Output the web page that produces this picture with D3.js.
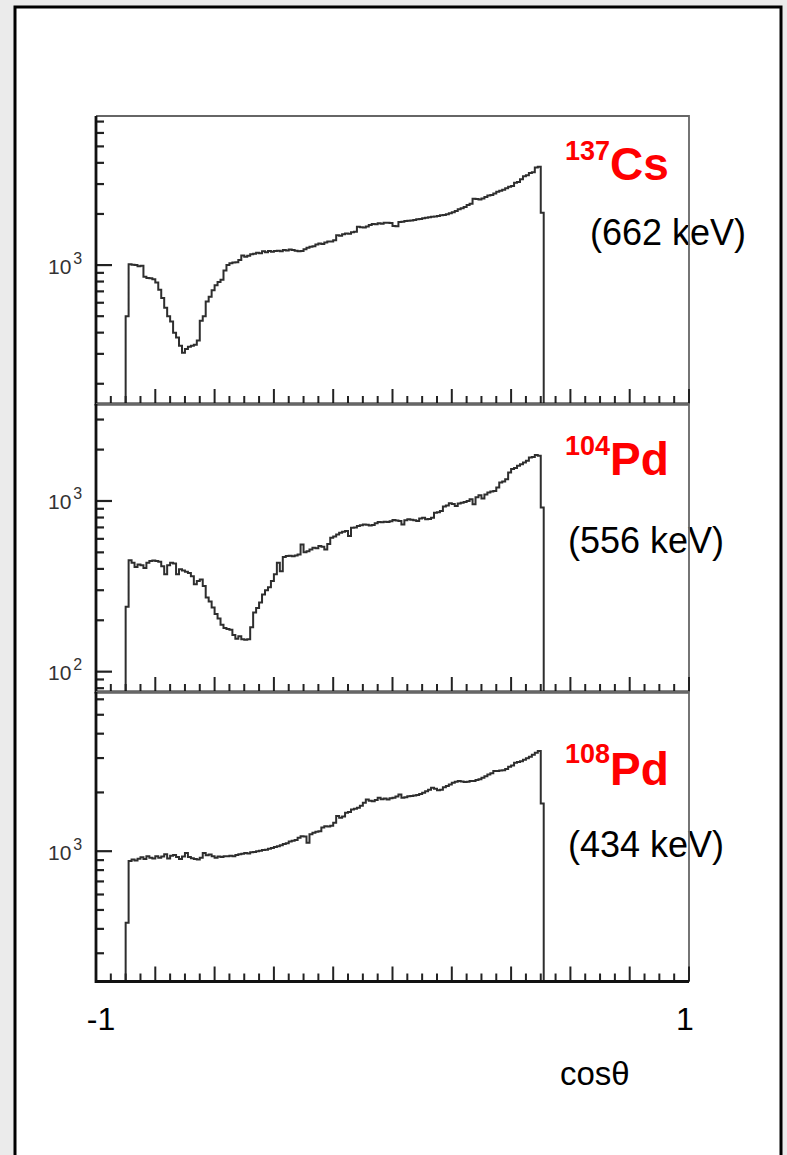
<!DOCTYPE html>
<html>
<head>
<meta charset="utf-8">
<script src="https://cdn.jsdelivr.net/npm/d3@7"></script>
<style>
  html, body { margin: 0; padding: 0; background: #ebebeb; }
  svg { display: block; }
</style>
</head>
<body>
<svg id="chart" width="787" height="1155"></svg>
<script>
// ---- Histogram binning in cos(theta) ----
const binStart = -0.90;
const binWidth = 0.01;

// ---- Counts per bin (log scale plots) ----
const cs137Counts = [
  500, 1010, 1005, 1000, 985, 990, 855, 840, 835, 825,
  790, 715, 640, 560, 500, 465, 400, 375, 335, 305,
  320, 330, 335, 340, 360, 470, 500, 610, 650, 710,
  760, 795, 820, 930, 1000, 1025, 1035, 1040, 1070, 1140,
  1120, 1135, 1160, 1165, 1180, 1175, 1205, 1190, 1210, 1200,
  1210, 1215, 1205, 1225, 1220, 1235, 1225, 1215, 1205, 1210,
  1240, 1265, 1280, 1290, 1320, 1340, 1330, 1360, 1375, 1375,
  1400, 1500, 1490, 1520, 1535, 1530, 1560, 1570, 1680, 1670,
  1665, 1690, 1720, 1745, 1740, 1765, 1750, 1775, 1775, 1770,
  1700, 1695, 1795, 1800, 1815, 1825, 1830, 1840, 1860, 1870,
  1885, 1900, 1910, 1925, 1935, 1945, 1965, 1975, 1990, 2020,
  2050, 2080, 2130, 2160, 2200, 2260, 2300, 2460, 2450, 2430,
  2470, 2520, 2570, 2590, 2640, 2700, 2740, 2780, 2830, 2890,
  2920, 3050, 3080, 3200, 3340, 3380, 3480, 3520, 3760, 3790,
  2030
];

const pd104Counts = [
  240, 450, 435, 410, 425, 420, 405, 435, 445, 448,
  445, 440, 415, 372, 420, 435, 430, 372, 398, 392,
  385, 378, 362, 325, 340, 347, 318, 272, 258, 238,
  218, 205, 188, 180, 178, 176, 164, 156, 161, 155,
  154, 155, 182, 222, 236, 254, 283, 300, 312, 340,
  372, 435, 388, 470, 476, 478, 474, 480, 486, 556,
  500, 508, 520, 532, 528, 544, 540, 520, 560, 609,
  620, 637, 652, 660, 666, 623, 697, 700, 713, 720,
  729, 725, 719, 722, 740, 752, 750, 755, 752, 760,
  773, 768, 763, 729, 770, 781, 775, 770, 763, 790,
  798, 781, 785, 798, 854, 860, 873, 927, 940, 969,
  960, 935, 965, 978, 985, 1000, 1023, 956, 1050, 1080,
  1033, 1090, 1120, 1135, 1145, 1198, 1283, 1300, 1342, 1469,
  1537, 1560, 1608, 1644, 1680, 1720, 1800, 1810, 1857, 1840,
  915
];

const pd108Counts = [
  430, 890, 908, 895, 914, 930, 912, 943, 926, 917,
  943, 926, 939, 965, 917, 948, 956, 934, 912, 939,
  978, 934, 921, 912, 908, 926, 978, 952, 961, 943,
  926, 939, 934, 943, 943, 948, 943, 956, 965, 969,
  978, 974, 987, 991, 1000, 1004, 1013, 1017, 1030, 1039,
  1052, 1061, 1074, 1087, 1099, 1121, 1130, 1142, 1172, 1194,
  1190, 1104, 1223, 1243, 1257, 1266, 1324, 1344, 1337, 1349,
  1398, 1513, 1483, 1507, 1572, 1588, 1635, 1652, 1669, 1709,
  1769, 1842, 1813, 1805, 1829, 1876, 1844, 1861, 1842, 1868,
  1876, 1908, 1952, 1876, 1892, 1913, 1916, 1930, 1940, 1964,
  1993, 2027, 2066, 2113, 2089, 2054, 2066, 2128, 2155, 2198,
  2241, 2267, 2286, 2275, 2259, 2267, 2290, 2286, 2313, 2336,
  2377, 2420, 2472, 2511, 2572, 2579, 2594, 2601, 2638, 2706,
  2751, 2837, 2863, 2893, 2937, 2996, 3043, 3121, 3195, 3259,
  1756
];

// ---- Panel labels, axis ranges and tick labels ----
const massNumbers = ["137", "104", "108"];
const elementSymbols = ["Cs", "Pd", "Pd"];
const gammaEnergies = ["(662 keV)", "(556 keV)", "(434 keV)"];
const yDomains = [[152, 7550], [76, 3700], [215, 6540]];
const yLabelledDecades = [[1000], [1000, 100], [1000]];
const xDomain = [-1, 1];
const xTickLabels = [{ v: -1, t: "-1" }, { v: 1, t: "1" }];
const xAxisTitle = "cosθ";

const seriesCounts = [cs137Counts, pd104Counts, pd108Counts];

// ---- Layout ----
const svg = d3.select("#chart");
const fontFam = "'Liberation Sans', Arial, sans-serif";
const plotLeft = 96, plotRight = 689;
const panelBox = [[116, 404], [404, 692], [692, 981.5]];
const labelPos = [
  { x: 565, sup: 160, base: 180, energyX: 590, energyY: 245 },
  { x: 565, sup: 455, base: 475, energyX: 568, energyY: 553 },
  { x: 565, sup: 763, base: 785, energyX: 568, energyY: 857 }
];

// outer slide frame
svg.append("rect")
  .attr("x", 15).attr("y", 7)
  .attr("width", 766).attr("height", 1170)
  .attr("fill", "#fff")
  .attr("stroke", "#000").attr("stroke-width", 3);

const x = d3.scaleLinear().domain(xDomain).range([plotLeft, plotRight]);
const xTicks = d3.range(-20, 21).map(k => ({ v: k * 0.05, major: k % 4 === 0 }));

seriesCounts.forEach((counts, p) => {
  const [top, bottom] = panelBox[p];
  const y = d3.scaleLog().domain(yDomains[p]).range([bottom, top]);
  const g = svg.append("g");
  const lp = labelPos[p];

  // isotope name and gamma energy
  const name = g.append("text")
    .attr("x", lp.x).attr("y", lp.sup)
    .attr("fill", "#ff0000")
    .attr("font-family", fontFam)
    .attr("font-weight", "bold");
  name.append("tspan").attr("font-size", 27).text(massNumbers[p]);
  name.append("tspan").attr("font-size", 46).attr("y", lp.base).text(elementSymbols[p]);

  g.append("text")
    .attr("x", lp.energyX).attr("y", lp.energyY)
    .attr("fill", "#000")
    .attr("font-family", fontFam)
    .attr("font-size", 36)
    .text(gammaEnergies[p]);

  // frame: light top / right edges
  g.append("path")
    .attr("d", `M${plotLeft},${top}H${plotRight}V${bottom}`)
    .attr("fill", "none").attr("stroke", "#666").attr("stroke-width", 1.8);

  // histogram as a step line
  const pts = [{ cx: binStart, c: yDomains[p][0] }]
    .concat(counts.map((c, i) => ({ cx: binStart + i * binWidth, c })))
    .concat([{ cx: binStart + counts.length * binWidth, c: yDomains[p][0] }]);
  const line = d3.line()
    .x(d => x(d.cx))
    .y(d => y(Math.max(d.c, yDomains[p][0])))
    .curve(d3.curveStepAfter);
  g.append("path")
    .attr("d", line(pts))
    .attr("fill", "none")
    .attr("stroke", "#2e2e2e")
    .attr("stroke-width", 2);

  // y ticks (log): long at decades, short elsewhere
  y.ticks().forEach(v => {
    const isDecade = Math.abs(Math.log10(v) - Math.round(Math.log10(v))) < 1e-9;
    const yy = y(v);
    if (yy < top + 1 || yy > bottom - 1) return;
    g.append("line")
      .attr("x1", plotLeft).attr("x2", plotLeft + (isDecade ? 16 : 8))
      .attr("y1", yy).attr("y2", yy)
      .attr("stroke", "#222").attr("stroke-width", 2.2);
  });

  // decade labels 10^n
  yLabelledDecades[p].forEach(v => {
    const yy = y(v);
    const t = g.append("text")
      .attr("x", 48).attr("y", yy + 8.5)
      .attr("fill", "#333")
      .attr("font-family", fontFam)
      .attr("font-size", 21);
    t.append("tspan").text("10");
    t.append("tspan").attr("dx", 2).attr("dy", -10).attr("font-size", 16)
      .text(String(Math.round(Math.log10(v))));
  });

  // x ticks along the bottom edge
  xTicks.forEach(tk => {
    const xx = x(tk.v);
    g.append("line")
      .attr("x1", xx).attr("x2", xx)
      .attr("y1", bottom).attr("y2", bottom - (tk.major ? 15 : 8))
      .attr("stroke", "#222").attr("stroke-width", 2);
  });

  // bold left and bottom axes
  g.append("path")
    .attr("d", `M${plotLeft},${top}V${bottom}H${plotRight}`)
    .attr("fill", "none").attr("stroke", "#111").attr("stroke-width", 2.8);
});

// x axis labels and title
svg.selectAll("text.xlab").data(xTickLabels).enter().append("text")
  .attr("class", "xlab")
  .attr("x", d => x(d.v) + (d.v < 0 ? 5 : -4))
  .attr("y", 1030)
  .attr("text-anchor", "middle")
  .attr("font-family", fontFam).attr("font-size", 32)
  .attr("fill", "#000")
  .text(d => d.t);

svg.append("text")
  .attr("x", 560).attr("y", 1085)
  .attr("font-family", fontFam).attr("font-size", 33)
  .attr("fill", "#000")
  .text(xAxisTitle);
</script>
</body>
</html>
